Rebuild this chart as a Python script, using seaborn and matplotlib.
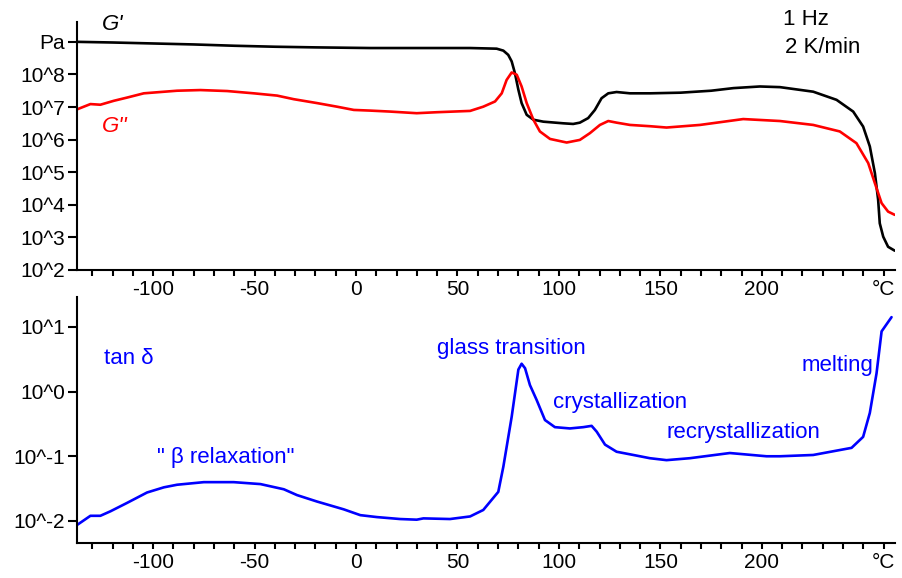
import numpy as np
import matplotlib
matplotlib.use("Agg")
import matplotlib.pyplot as plt
import seaborn as sns
from matplotlib.ticker import FixedLocator, NullLocator

# storage modulus G' (black), log10 Pa
gp_temp = [-137.5, -120, -100, -80, -60, -40, -20, 7, 30, 56.2, 69.3, 72.6, 75, 76.7,
           78.3, 80, 81.6, 84.1, 87.4, 92.3, 102.1, 107, 110.3, 114.4, 117.7, 121,
           124.3, 128.4, 135, 145, 160, 175, 186, 199, 208.9, 225.3, 236.8, 245, 249.9,
           253.2, 255.7, 257.3, 258.1, 259.8, 262.2, 265.5]
gp_log = [9.00, 8.98, 8.95, 8.92, 8.88, 8.85, 8.83, 8.81, 8.81, 8.81, 8.79, 8.73, 8.60,
          8.40, 8.04, 7.53, 7.12, 6.76, 6.61, 6.55, 6.50, 6.48, 6.52, 6.66, 6.91, 7.27,
          7.42, 7.46, 7.42, 7.42, 7.44, 7.50, 7.58, 7.63, 7.61, 7.47, 7.22, 6.86, 6.40,
          5.79, 4.97, 4.15, 3.43, 3.02, 2.71, 2.59]

# loss modulus G'' (red), log10 Pa
gpp_temp = [-137.4, -130.9, -126, -119.4, -112.8, -104.6, -96.4, -88.2, -76.7, -63.5,
            -50.4, -38.9, -30.7, -19.2, -9.4, -1.1, 6.9, 16.7, 29.9, 39.8, 56.2, 62.7,
            68.5, 71.8, 74.2, 76.7, 79.2, 81.6, 84.1, 87.4, 90.6, 95.6, 103.8, 110.3,
            115.3, 120.2, 124.3, 128.4, 135, 145, 153, 169.5, 190.8, 208.9, 225.3, 238.4,
            246.6, 252.4, 255.7, 259, 262.2, 265.5]
gpp_log = [6.93, 7.09, 7.07, 7.19, 7.29, 7.42, 7.46, 7.50, 7.52, 7.49, 7.42, 7.35, 7.24,
           7.12, 7.01, 6.91, 6.89, 6.86, 6.81, 6.84, 6.88, 7.01, 7.17, 7.42, 7.83, 8.06,
           7.99, 7.63, 7.12, 6.61, 6.25, 6.02, 5.91, 5.99, 6.20, 6.45, 6.57, 6.52, 6.45,
           6.41, 6.37, 6.45, 6.63, 6.57, 6.45, 6.25, 5.89, 5.28, 4.66, 4.05, 3.79, 3.69]

# loss factor tan delta (blue), log10
tan_temp = [-137.4, -130.9, -126, -121, -112.8, -103, -94.7, -88.2, -75, -60.3, -47.1,
            -35.6, -29.1, -19.2, -6.1, 2.1, 10.3, 21.7, 29.9, 33.2, 46.3, 56.2, 62.7,
            70.1, 72.6, 76.7, 80, 81.6, 83.3, 85.7, 89, 93.1, 98, 105.4, 112, 116.1,
            118.6, 122.7, 128.4, 138.3, 144.8, 153, 164.5, 184.2, 202.3, 208.9, 225.3,
            244.2, 249.9, 253.2, 256.5, 259, 263.9]
tan_log = [-2.06, -1.92, -1.92, -1.85, -1.72, -1.56, -1.48, -1.44, -1.40, -1.40, -1.43,
           -1.51, -1.60, -1.70, -1.82, -1.91, -1.94, -1.97, -1.98, -1.96, -1.97, -1.93,
           -1.83, -1.55, -1.16, -0.39, 0.34, 0.43, 0.36, 0.10, -0.13, -0.44, -0.55, -0.57,
           -0.55, -0.53, -0.62, -0.82, -0.93, -0.99, -1.03, -1.06, -1.03, -0.95, -1.00,
           -1.00, -0.98, -0.87, -0.70, -0.33, 0.28, 0.93, 1.15]

x_ticks = list(range(-130, 261, 10))
x_labels = {-100: "-100", -50: "-50", 0: "0", 50: "50", 100: "100", 150: "150",
            200: "200", 260: "°C"}
top_yticks = [1e2, 1e3, 1e4, 1e5, 1e6, 1e7, 1e8, 1e9]
top_ylabels = ["10^2", "10^3", "10^4", "10^5", "10^6", "10^7", "10^8", "Pa"]
bot_yticks = [1e-2, 1e-1, 1e0, 1e1]
bot_ylabels = ["10^-2", "10^-1", "10^0", "10^1"]

sns.set_style("ticks")
plt.rcParams['font.family'] = ['Liberation Sans', 'DejaVu Sans']
fs_tick = 15
fs = 16

fig = plt.figure(figsize=(9.02, 5.78), dpi=100)
ax1 = fig.add_axes([0.0854, 0.533, 0.9066, 0.429])
ax2 = fig.add_axes([0.0854, 0.0606, 0.9066, 0.4254])

sns.lineplot(x=gp_temp, y=10 ** np.array(gp_log), ax=ax1, color="black", linewidth=1.9)
sns.lineplot(x=gpp_temp, y=10 ** np.array(gpp_log), ax=ax1, color="#ff0000", linewidth=1.9)
sns.lineplot(x=tan_temp, y=10 ** np.array(tan_log), ax=ax2, color="#0000ff", linewidth=1.9)

for ax in (ax1, ax2):
    ax.set_yscale("log")
    ax.set_xlim(-137.5, 265.5)
    ax.xaxis.set_major_locator(FixedLocator(x_ticks))
    ax.set_xticklabels([x_labels.get(t, "") for t in x_ticks])
    ax.yaxis.set_minor_locator(NullLocator())
    ax.xaxis.set_minor_locator(NullLocator())
    for s in ("top", "right"):
        ax.spines[s].set_visible(False)
    for s in ("left", "bottom"):
        ax.spines[s].set_linewidth(1.5)
        ax.spines[s].set_color("black")
    ax.tick_params(axis="x", length=4, width=1.5, labelsize=fs_tick, colors="black", pad=3)
    ax.tick_params(axis="y", length=6.5, width=1.5, labelsize=fs_tick, colors="black", pad=2)
    ax.set_xlabel("")
    ax.set_ylabel("")

ax1.set_ylim(1e2, 10 ** 9.61)
ax1.yaxis.set_major_locator(FixedLocator(top_yticks))
ax1.set_yticklabels(top_ylabels)
ax2.set_ylim(10 ** -2.34, 10 ** 1.46)
ax2.yaxis.set_major_locator(FixedLocator(bot_yticks))
ax2.set_yticklabels(bot_ylabels)

ax1.text(-125, 10 ** 9.52, "G'", color="black", fontsize=fs, style="italic", va="center")
ax1.text(-125, 10 ** 6.39, "G''", color="#ff0000", fontsize=fs, style="italic", va="center")
ax1.text(210.3, 10 ** 9.68, "1 Hz", color="black", fontsize=fs, va="center")
ax1.text(211.3, 10 ** 8.82, "2 K/min", color="black", fontsize=fs, va="center")

blue = "#0000ff"
ax2.text(-124, 10 ** 0.505, "tan δ", color=blue, fontsize=fs, va="center")
ax2.text(-98, 10 ** -1.02, '" β relaxation"', color=blue, fontsize=fs, va="center")
ax2.text(39.9, 10 ** 0.66, "glass transition", color=blue, fontsize=fs, va="center")
ax2.text(97, 10 ** -0.17, "crystallization", color=blue, fontsize=fs, va="center")
ax2.text(153, 10 ** -0.64, "recrystallization", color=blue, fontsize=fs, va="center")
ax2.text(219.7, 10 ** 0.40, "melting", color=blue, fontsize=fs, va="center")

fig.savefig("out.png", dpi=100)
